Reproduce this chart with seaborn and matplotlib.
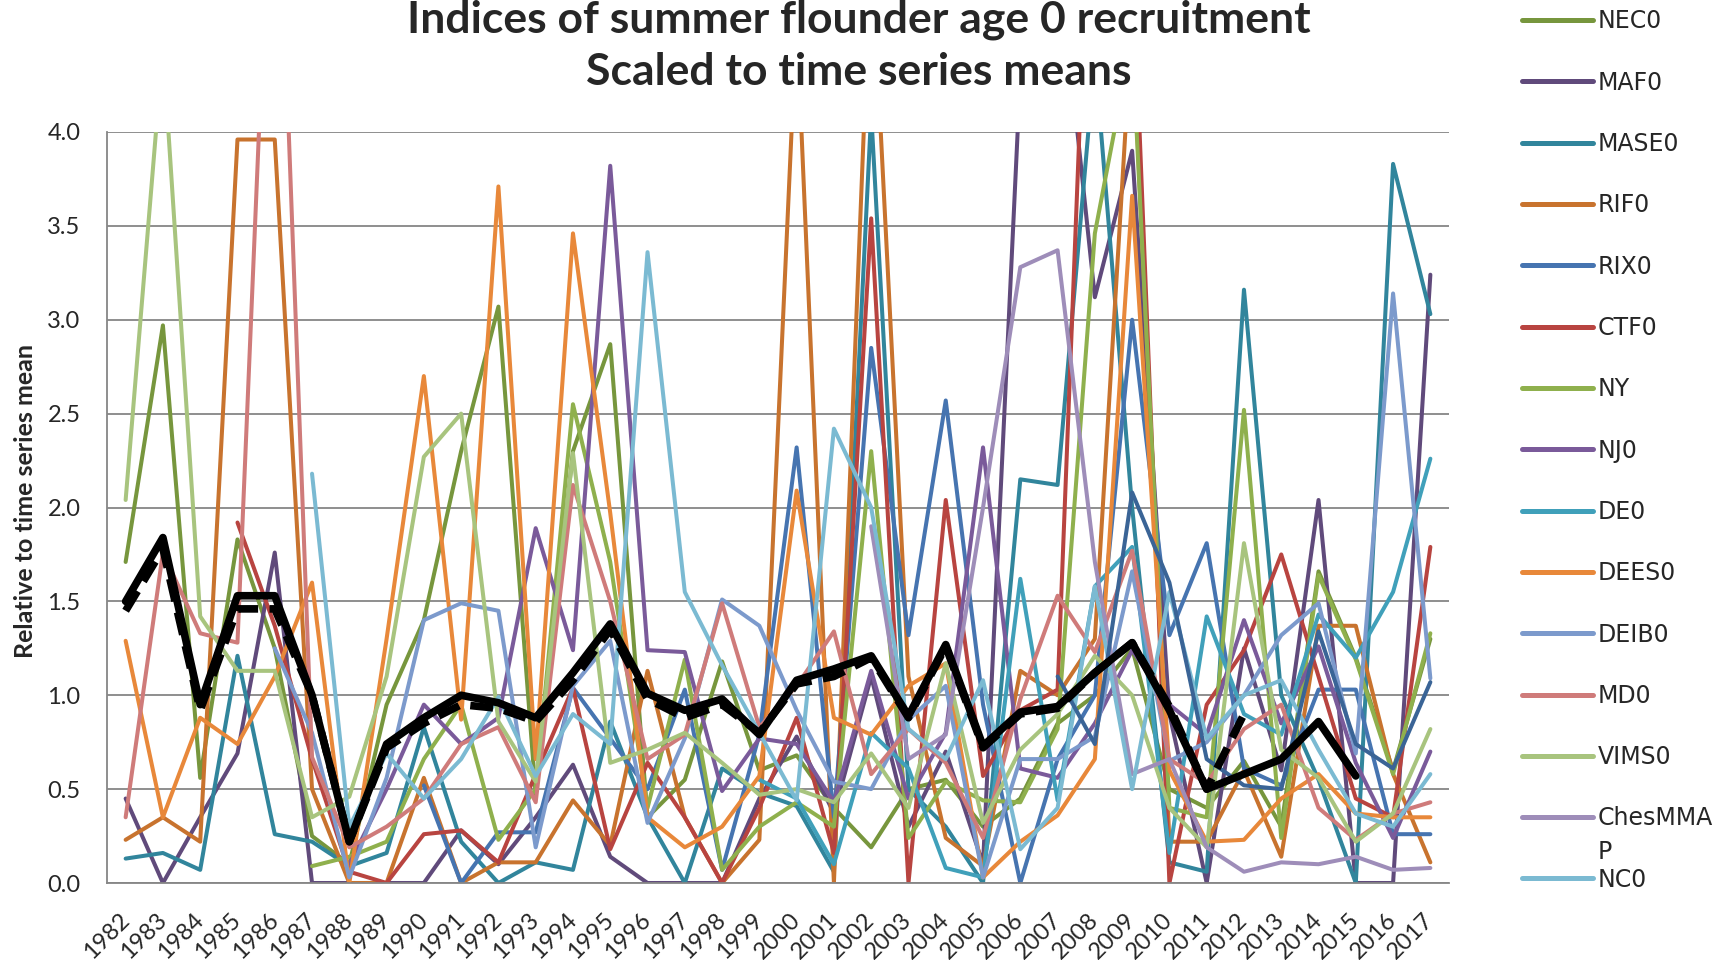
import numpy as np
import pandas as pd
import matplotlib.pyplot as plt
import seaborn as sns

nan = np.nan
years = list(range(1982, 2018))

# indices scaled to series means
NEC0 = [1.71, 2.97, 0.56, 1.83, 1.25, 0.25, 0.10, 0.95, 1.40, 2.30, 3.07, 0.47, 2.30, 2.87, 0.35, 0.55, 1.18, 0.60,
        0.68, 0.40, 0.19, 0.50, 0.55, 0.30, 0.45, 0.85, 1.00, 1.25, 0.50, 0.40, 0.65, 0.30, 1.66, 1.20, 0.60, 1.30]
MAF0 = [0.45, 0.00, 0.35, 0.69, 1.76, 0.00, 0.00, 0.00, 0.00, 0.28, 0.10, 0.35, 0.63, 0.14, 0.00, 0.00, 0.00, 0.45,
        0.78, 0.37, 1.10, 0.30, 0.70, 0.10, 4.30, 5.00, 3.12, 3.90, 0.90, 0.00, 1.25, 0.60, 2.04, 0.00, 0.00, 3.24]
MASE0 = [0.13, 0.16, 0.07, 1.21, 0.26, 0.22, 0.09, 0.16, 0.83, 0.22, 0.00, 0.11, 0.07, 0.86, 0.35, 0.00, 0.61, 0.48,
         0.41, 0.06, 4.10, 0.50, 0.30, 0.00, 2.15, 2.12, 4.40, 2.00, 0.11, 0.06, 3.16, 1.00, 0.55, 0.00, 3.83, 3.03]
RIF0 = [0.23, 0.35, 0.22, 3.96, 3.96, 0.50, 0.00, 0.00, 0.56, 0.00, 0.11, 0.11, 0.44, 0.20, 1.13, 0.35, 0.00, 0.23,
        4.60, 0.00, 5.00, 1.10, 0.24, 0.09, 1.13, 1.00, 1.30, 4.60, 0.22, 0.22, 0.60, 0.14, 1.37, 1.37, 0.58, 0.11]
RIX0 = [nan, nan, nan, nan, nan, nan, nan, nan, 0.52, 0.00, 0.27, 0.27, 1.04, 0.77, 0.50, 1.03, 0.07, 0.79,
        2.32, 0.35, 2.85, 1.32, 2.57, 0.95, 0.00, 0.66, 1.00, 3.00, 1.32, 1.81, 0.61, 0.52, 1.03, 1.03, 0.26, 0.26]
CTF0 = [nan, nan, nan, 1.92, 1.37, 0.66, 0.06, 0.00, 0.26, 0.28, 0.11, 0.58, 1.04, 0.18, 0.64, 0.35, 0.00, 0.40,
        0.88, 0.16, 3.54, 0.00, 2.04, 0.57, 0.92, 1.03, 6.10, 5.00, 0.00, 0.95, 1.24, 1.75, 1.10, 0.45, 0.35, 1.79]
NY = [nan, nan, nan, nan, nan, 0.09, 0.14, 0.22, 0.66, 0.95, 0.23, 0.50, 2.55, 1.71, 0.40, 1.19, 0.07, 0.30,
      0.43, 0.30, 2.30, 0.24, 0.54, 0.44, 0.43, 0.82, 3.46, 4.50, 0.40, 0.35, 2.52, 0.24, 1.64, 1.19, 0.58, 1.33]
NJ0 = [nan, nan, nan, nan, nan, nan, 0.10, 0.50, 0.95, 0.74, 0.88, 1.89, 1.24, 3.82, 1.24, 1.23, 0.49, 0.77,
       0.74, 0.43, 1.13, 0.45, 0.80, 2.32, 0.61, 0.56, 0.85, 1.24, 0.95, 0.79, 1.40, 0.85, 1.26, 0.64, 0.24, 0.70]
DE0 = [nan, nan, nan, nan, nan, nan, nan, nan, nan, nan, nan, nan, nan, nan, nan, nan, nan, 0.55,
       0.45, 0.10, 0.80, 0.61, 0.08, 0.03, 1.62, 0.44, 1.58, 1.79, 0.16, 1.42, 0.90, 0.79, 1.43, 1.20, 1.55, 2.26]
DEES0 = [1.29, 0.35, 0.88, 0.74, 1.10, 1.60, 0.00, 1.30, 2.70, 0.87, 3.71, 0.66, 3.46, 1.97, 0.35, 0.19, 0.30, 0.57,
         2.09, 0.88, 0.79, 1.05, 1.17, 0.03, 0.22, 0.36, 0.66, 3.66, 0.60, 0.22, 0.23, 0.45, 0.58, 0.37, 0.35, 0.35]
DEIB0 = [nan, nan, nan, nan, 1.25, 0.80, 0.03, 0.56, 1.40, 1.49, 1.45, 0.19, 1.05, 1.29, 0.32, 0.77, 1.51, 1.37,
         0.92, 0.54, 0.50, 0.87, 1.05, 0.03, 0.66, 0.66, 0.78, 1.66, 0.65, 0.75, 1.00, 1.32, 1.49, 0.69, 3.14, 1.09]
MD0 = [0.35, 1.76, 1.33, 1.28, 6.00, 0.67, 0.19, 0.30, 0.45, 0.74, 0.83, 0.43, 2.12, 1.50, 0.66, 0.79, 1.49, 0.83,
       1.05, 1.34, 0.58, 0.82, 0.64, 0.24, 0.98, 1.53, 1.23, 1.77, 0.66, 0.53, 0.82, 0.95, 0.40, 0.23, 0.37, 0.43]
VIMS0 = [2.04, 4.45, 1.42, 1.13, 1.13, 0.35, 0.46, 1.10, 2.27, 2.50, 0.86, 0.54, 2.29, 0.64, 0.71, 0.80, 0.64, 0.47,
         0.50, 0.43, 0.69, 0.40, 1.17, 0.32, 0.71, 0.90, 1.21, 1.00, 0.40, 0.19, 1.81, 0.71, 0.56, 0.22, 0.37, 0.82]
ChesMMAP = [nan, nan, nan, nan, nan, nan, nan, nan, nan, nan, nan, nan, nan, nan, nan, nan, nan, nan,
            nan, nan, 1.90, 0.66, 0.79, 2.00, 3.28, 3.37, 1.71, 0.58, 0.66, 0.19, 0.06, 0.11, 0.10, 0.14, 0.07, 0.08]
NC0 = [nan, nan, nan, nan, nan, 2.18, 0.30, 0.69, 0.45, 0.66, 0.99, 0.57, 0.90, 0.74, 3.36, 1.55, 1.16, nan,
       0.44, 2.42, 2.00, 0.82, 0.66, 1.08, 0.18, 0.40, 1.58, 0.50, 1.55, 0.77, 1.00, 1.08, 0.71, 0.37, 0.30, 0.58]
# series below the visible part of the legend
other = [nan, nan, nan, nan, nan, nan, nan, nan, nan, nan, nan, nan, nan, nan, nan, nan, nan, nan,
         nan, nan, nan, nan, nan, nan, nan, 1.10, 0.74, 2.08, 1.60, 0.66, 0.52, 0.50, 1.34, 0.74, 0.61, 1.07]

mean_all = [1.50, 1.84, 0.95, 1.53, 1.53, 1.00, 0.22, 0.74, 0.88, 1.00, 0.96, 0.88, 1.12, 1.38, 1.01, 0.92, 0.98, 0.79,
            1.08, 1.14, 1.21, 0.89, 1.27, 0.73, 0.91, 0.94, 1.12, 1.28, 0.92, 0.50, 0.58, 0.66, 0.86, 0.57, nan, nan]
mean_dash = [1.45, 1.78, 0.92, 1.46, 1.46, 1.00, 0.22, 0.72, 0.85, 0.95, 0.93, 0.86, 1.08, 1.35, 0.98, 0.88, 0.95, 0.80,
             1.06, 1.10, 1.20, 0.88, 1.26, 0.72, 0.90, 0.93, 1.12, 1.28, 0.94, 0.50, 0.90, nan, nan, nan, nan, nan]

names = ['NEC0', 'MAF0', 'MASE0', 'RIF0', 'RIX0', 'CTF0', 'NY', 'NJ0', 'DE0', 'DEES0', 'DEIB0', 'MD0', 'VIMS0',
         'ChesMMAP', 'NC0', 'other']
series = [NEC0, MAF0, MASE0, RIF0, RIX0, CTF0, NY, NJ0, DE0, DEES0, DEIB0, MD0, VIMS0, ChesMMAP, NC0, other]
colors = ['#77963D', '#604A7B', '#31859C', '#C8732E', '#4674B0', '#B84440', '#8FB04D', '#7A5A9A', '#40A0BA',
          '#E8883A', '#7C9ACC', '#CF7B7A', '#A8C47E', '#9E8DB9', '#7BBAD2', '#3A6496']

sns.set_style("white")
plt.rcParams['font.family'] = ['Lato', 'DejaVu Sans']

W, H = 1731, 960
fig = plt.figure(figsize=(W / 100, H / 100), dpi=100)
ax = fig.add_axes([107 / W, 77 / H, 1342 / W, 751 / H])

for name, vals, col in zip(names, series, colors):
    df = pd.DataFrame({'year': years, 'value': vals})
    sns.lineplot(data=df, x='year', y='value', color=col, linewidth=2.9, ax=ax, label=name)

sns.lineplot(x=years, y=mean_all, color='black', linewidth=5.5, ax=ax)
sns.lineplot(x=years, y=mean_dash, color='black', linewidth=5.5, ax=ax, linestyle=(0, (3, 1.5)))

ax.set_xlim(1981.5, 2017.5)
ax.set_ylim(0, 4)
yt = np.arange(0, 4.01, 0.5)
ax.set_yticks(yt)
ax.set_yticklabels([f'{v:.1f}' for v in yt], fontsize=17)
ax.set_xticks(years)
ax.set_xticklabels([str(y) for y in years], rotation=45, ha='right', va='center',
                   rotation_mode='anchor', fontsize=17)
ax.set_xticks(np.arange(1981.5, 2018, 1), minor=True)
ax.tick_params(axis='x', which='major', length=0, pad=24)
ax.tick_params(axis='x', which='minor', length=6, width=1.3, color='#868686', direction='out')
ax.tick_params(axis='y', length=7, width=1.3, color='#868686', direction='out', pad=12)
ax.yaxis.grid(True, color='#868686', linewidth=1.3)
ax.set_axisbelow(True)
for s in ['top', 'right']:
    ax.spines[s].set_visible(False)
for s in ['left', 'bottom']:
    ax.spines[s].set_color('#868686')
    ax.spines[s].set_linewidth(1.3)
ax.set_xlabel('')
ax.set_ylabel('')

fig.text(26 / W, 1 - 501 / H, 'Relative to time series mean', rotation=90, ha='center', va='center',
         fontsize=18, fontweight='bold')
fig.text(859 / W, 1 - 20 / H, 'Indices of summer flounder age 0 recruitment', ha='center', va='center',
         fontsize=32, fontweight='bold')
fig.text(859 / W, 1 - 72 / H, 'Scaled to time series means', ha='center', va='center',
         fontsize=32, fontweight='bold')

handles, labels = ax.get_legend_handles_labels()
keep = [(h, l) for h, l in zip(handles, labels) if l != 'other']
if ax.get_legend() is not None:
    ax.get_legend().remove()
leg_labels = ['ChesMMA' if l == 'ChesMMAP' else l for h, l in keep]
leg = fig.legend([h for h, l in keep], leg_labels, loc='upper left', bbox_to_anchor=(1513 / W, 1.0),
                 frameon=False, handlelength=3.0, handletextpad=0.2, labelspacing=1.58, borderaxespad=0,
                 prop={'family': 'DejaVu Sans', 'size': 17})
for ln in leg.get_lines():
    ln.set_linewidth(3.6)
    ln.set_solid_capstyle('round')

# the long label wraps onto a second line in the original
fig.canvas.draw()
for t in leg.get_texts():
    if t.get_text() == 'ChesMMA':
        bb = t.get_window_extent()
        fig.text(bb.x0 / W, (bb.y0 - 34) / H, 'P', ha='left', va='bottom',
                 family='DejaVu Sans', fontsize=17)

fig.savefig('out.png', dpi=100)
